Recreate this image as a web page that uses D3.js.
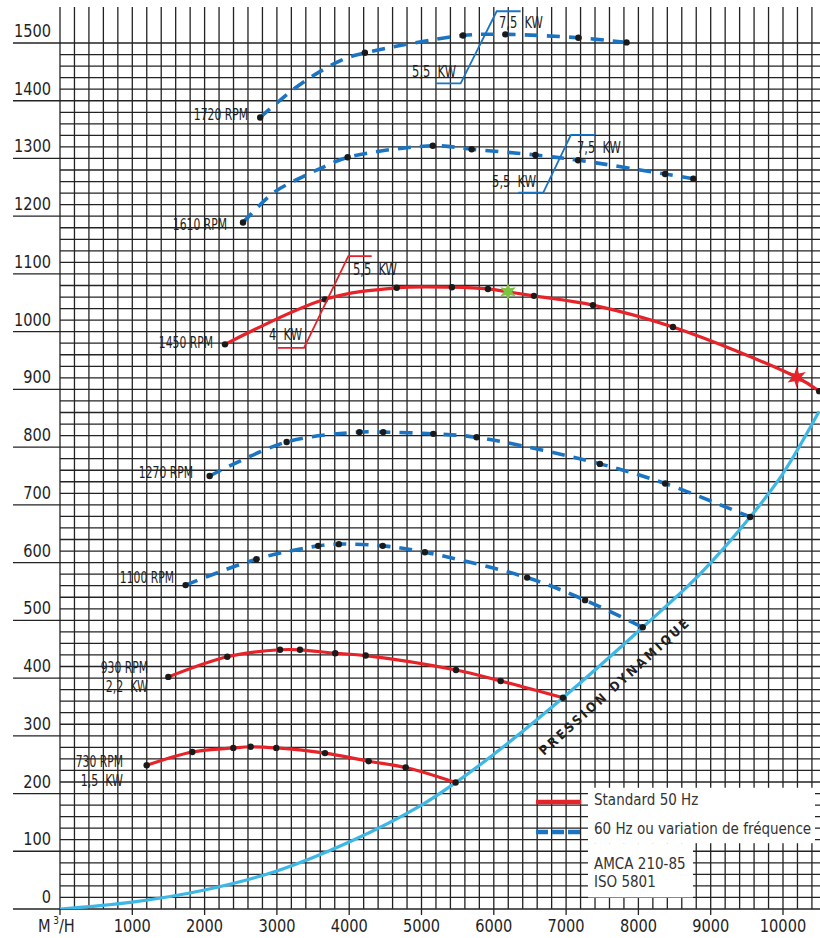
<!DOCTYPE html>
<meta charset="utf-8">
<html>
<head>
<style>
  body { margin: 0; background: #fff; }
  text { font-family: "DejaVu Sans Condensed", "Liberation Sans Narrow", sans-serif; fill: #1f1f1f; }
</style>
<script src="https://d3js.org/d3.v7.min.js"></script>
</head>
<body>
<script>
// ---- data (x = m3/h, y = pressure, 3rd value 1 = dot marker) ----
var xTicks = d3.range(1000, 10001, 1000)
var yTicks = d3.range(0, 1501, 100)

var curve730 = [[1199,249,1],[1830,272,1],[2397,279,1],[2637,281,1],[2991,279,1],[3665,270,1],[4269,256,1],[4781,245,1],[5472,219,1]]
var curve930 = [[1498,402,1],[2314,437,1],[3043,449,1],[3319,449,1],[3807,443,1],[4228,439,1],[5477,414,1],[6095,395,1],[6957,366,1]]
var curve1100 = [[1737,561,1],[2716,606,1],[3571,629,1],[3857,632,1],[4464,629,1],[5047,618,1],[6461,574,1],[7263,535,1],[8060,488,1]]
var curve1270 = [[2070,750,1],[3135,809,1],[4142,826,1],[4470,826,1],[5164,823,1],[5762,817,1],[7468,771,1],[8371,737,1],[9546,679,1]]
var curve1450 = [[2282,978,1],[3665,1056,1],[4657,1076,1],[5421,1077,1],[5919,1074,1],[6196,1069,0],[6555,1062,1],[7371,1046,1],[8478,1008,1],[10189,921,0],[10501,897,1]]
var curve1610 = [[2531,1189,1],[2946,1240,0],[3303,1265,0],[3659,1286,0],[3979,1302,1],[5156,1322,1],[5694,1316,1],[6575,1306,1],[7166,1297,1],[8370,1273,1],[8760,1265,1]]
var curve1720 = [[2769,1371,1],[3231,1420,0],[3589,1450,0],[3946,1473,0],[4217,1483,1],[5574,1513,1],[6160,1515,1],[7170,1509,1],[7836,1501,1]]

var pressure = [[0,0],[1000,12],[2000,33],[3000,66],[4000,116],[5000,180],[5472,219],[6000,268],[6957,366],[8060,488],[8851,580],[9546,679],[10003,755],[10500,862]]

var kw1450 = [[3011,972],[3375,972],[3988,1131],[4311,1131]]
var kw1720 = [[5186,1430],[5542,1430],[6040,1555],[6371,1555]]
var kw1610 = [[6338,1241],[6684,1241],[7067,1341],[7399,1341]]

var greenStar = [6196,1069]
var redStar = [10189,921]

var RED = "#e52329", BLUE = "#1b74c2", CYAN = "#3db8e6"

var svg = d3.select("body").append("svg").attr("width", 820).attr("height", 938)

var x = d3.scaleLinear().domain([0, 10000]).range([60, 783])
var y = d3.scaleLinear().domain([0, 1500]).range([909, 43])

svg.append("clipPath").attr("id", "plot")
  .append("rect").attr("x", 60).attr("y", 0).attr("width", 760).attr("height", 909)

// ---- grid ----
var grid = svg.append("g").attr("stroke", "#232323").attr("stroke-width", 1.3)

grid.selectAll("line.h").data(d3.range(0, 1501, 20)).join("line")
  .attr("x1", d => d % 100 == 0 ? 13 : 60).attr("x2", 820)
  .attr("y1", d => y(d)).attr("y2", d => y(d))

grid.selectAll("line.v").data(d3.range(0, 10401, 200)).join("line")
  .attr("x1", d => x(d)).attr("x2", d => x(d))
  .attr("y1", 7).attr("y2", d => d % 1000 == 0 ? 915 : 909)

// legend white boxes
svg.append("rect").attr("x", 588).attr("y", y(210)).attr("width", 227).attr("height", y(114) - y(210)).attr("fill", "#fff")
svg.append("rect").attr("x", 588).attr("y", y(114)).attr("width", 105).attr("height", y(20) - y(114)).attr("fill", "#fff")

// condensed text helper
function label(g, txt, px, py, anchor, size, sx) {
  return g.append("text")
    .attr("transform", "translate(" + px + "," + py + ") scale(" + sx + ",1)")
    .attr("text-anchor", anchor).style("font-size", size + "px")
    .style("white-space", "pre")
    .text(txt)
}

// ---- axis labels ----
var axisG = svg.append("g")
yTicks.forEach(d => label(axisG, d, 51, y(d) - 6, "end", 18, 0.9))
xTicks.forEach(d => label(axisG, d, x(d), 932, "middle", 18, 0.9))

var unit = svg.append("text").attr("transform", "translate(38,932) scale(0.9,1)").style("font-size", "18px")
unit.append("tspan").text("M")
unit.append("tspan").attr("dx", 3).attr("dy", -8).style("font-size", "11px").text("3")
unit.append("tspan").attr("dy", 8).text("/H")

// ---- curves ----
var line = d3.line().x(d => x(d[0])).y(d => y(d[1])).curve(d3.curveCatmullRom.alpha(0.5))
var plot = svg.append("g").attr("clip-path", "url(#plot)")

plot.append("path").attr("d", line(pressure))
  .attr("fill", "none").attr("stroke", CYAN).attr("stroke-width", 3.2)

var solid = [curve730, curve930, curve1450]
var dashed = [curve1100, curve1270, curve1610, curve1720]

plot.selectAll("path.solid").data(solid).join("path")
  .attr("d", line).attr("fill", "none")
  .attr("stroke", RED).attr("stroke-width", 3.2)

plot.selectAll("path.dash").data(dashed).join("path")
  .attr("d", line).attr("fill", "none")
  .attr("stroke", BLUE).attr("stroke-width", 3.6)
  .attr("stroke-dasharray", "13,9")

// kW limit lines
var straight = d3.line().x(d => x(d[0])).y(d => y(d[1]))
svg.append("path").attr("d", straight(kw1450)).attr("fill", "none").attr("stroke", RED).attr("stroke-width", 1.8)
svg.append("path").attr("d", straight(kw1720)).attr("fill", "none").attr("stroke", BLUE).attr("stroke-width", 1.8)
svg.append("path").attr("d", straight(kw1610)).attr("fill", "none").attr("stroke", BLUE).attr("stroke-width", 1.8)

// dots
var dots = solid.concat(dashed).flat().filter(d => d[2] == 1)
plot.selectAll("circle").data(dots).join("circle")
  .attr("cx", d => x(d[0])).attr("cy", d => y(d[1])).attr("r", 3.2)
  .attr("fill", "#1a1a1a")

// stars
function starPath(n, r1, r2) {
  var pts = d3.range(n * 2).map(i => {
    var a = Math.PI * i / n - Math.PI / 2, r = i % 2 ? r2 : r1
    return [Math.cos(a) * r, Math.sin(a) * r]
  })
  return "M" + pts.join("L") + "Z"
}
svg.append("path").attr("d", starPath(6, 9, 4))
  .attr("transform", "translate(" + x(greenStar[0]) + "," + y(greenStar[1]) + ")")
  .attr("fill", "#7cc444")
svg.append("path").attr("d", starPath(6, 10.5, 4.5))
  .attr("transform", "translate(" + x(redStar[0]) + "," + y(redStar[1]) + ")")
  .attr("fill", RED)

// ---- labels ----
var lab = svg.append("g")
label(lab, "1720 RPM", 248, 120, "end", 15, 0.8)
label(lab, "1610 RPM", 227, 230, "end", 15, 0.8)
label(lab, "1450 RPM", 213, 348, "end", 15, 0.8)
label(lab, "1270 RPM", 193, 478, "end", 15, 0.8)
label(lab, "1100 RPM", 174, 583, "end", 15, 0.8)
label(lab, "930 RPM", 148, 673, "end", 15, 0.8)
label(lab, "2,2  KW", 148, 692, "end", 15, 0.82)
label(lab, "730 RPM", 123, 767, "end", 15, 0.8)
label(lab, "1,5  KW", 123, 786, "end", 15, 0.82)
label(lab, "4  KW", 302, 340, "end", 15, 0.85)
label(lab, "5,5  KW", 456, 77, "end", 15, 0.85)
label(lab, "5,5  KW", 536, 187, "end", 15, 0.85)
label(lab, "5,5  KW", 353, 275, "start", 15, 0.85)
label(lab, "7,5  KW", 499, 28, "start", 15, 0.85)
label(lab, "7,5  KW", 577, 153, "start", 15, 0.85)

svg.append("text")
  .attr("transform", "translate(544,756) rotate(-42)")
  .attr("textLength", 196).attr("lengthAdjust", "spacing")
  .style("font-size", "13px").style("font-weight", "bold")
  .text("PRESSION DYNAMIQUE")

// ---- legend ----
svg.append("line").attr("x1", 536).attr("x2", 581).attr("y1", 802).attr("y2", 802)
  .attr("stroke", RED).attr("stroke-width", 4.5)
svg.append("line").attr("x1", 536).attr("x2", 581).attr("y1", 832).attr("y2", 832)
  .attr("stroke", BLUE).attr("stroke-width", 4.5).attr("stroke-dasharray", "12,4")

var legendText = [["Standard 50 Hz", 805], ["60 Hz ou variation de fréquence", 834], ["AMCA 210-85", 869], ["ISO 5801", 887]]
svg.append("g").selectAll("text").data(legendText).join("text")
  .attr("x", 594).attr("y", d => d[1]).style("font-size", "15px")
  .style("fill", "#333")
  .text(d => d[0])
</script>
</body>
</html>
